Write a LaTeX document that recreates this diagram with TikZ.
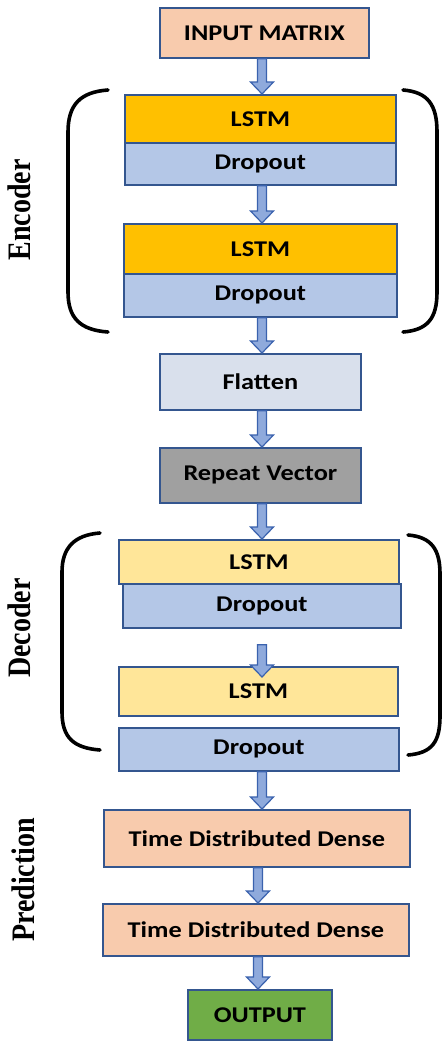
\documentclass[tikz,border=0pt]{standalone}
\usepackage{fontspec}
\setmainfont{Carlito}[FakeStretch=1.17]
\newfontfamily\labelfont{Liberation Serif}
\usetikzlibrary{calc}
\definecolor{peach}{HTML}{F8CBAD}
\definecolor{encgold}{HTML}{FFC000}
\definecolor{decgold}{HTML}{FFE699}
\definecolor{dropblue}{HTML}{B4C7E7}
\definecolor{flatgray}{HTML}{D9E0EC}
\definecolor{repgray}{HTML}{A0A0A0}
\definecolor{outgreen}{HTML}{70AD47}
\definecolor{edgeblue}{HTML}{34568F}
\definecolor{arrfill}{HTML}{8FAADC}
\definecolor{arrline}{HTML}{3A62AE}
% block arrow from #1 (tail) to #2 (tip)
\newcommand{\blockarrow}[2]{%
  \filldraw[fill=arrfill, draw=arrline, line width=1.2pt, line join=miter]
    ($(#1)+(-4.5,0)$) -- ($(#2)+(-4.5,-12)$) -- ($(#2)+(-11.5,-12)$) -- (#2)
    -- ($(#2)+(11.5,-12)$) -- ($(#2)+(4.5,-12)$) -- ($(#1)+(4.5,0)$) -- cycle;}
\begin{document}
\begin{tikzpicture}[x=1pt, y=-1pt,
  layer/.style={draw=edgeblue, line width=1.8pt, inner sep=0pt, anchor=north west,
    font=\bfseries\fontsize{22.5}{22.5}\selectfont, text=black},
  brace/.style={line width=3.6pt, line cap=round},
  side/.style={rotate=90, font=\labelfont\bfseries\fontsize{28}{28}\selectfont}]
\useasboundingbox (0,0) rectangle (445,1041);
\fill[white] (0,0) rectangle (445,1041);

% layer boxes
\newcommand{\lay}[7]{\node[layer, fill=#2, minimum width=#5-#3, minimum height=#6-#4] (#1) at (#3,#4) {#7};}
\lay{in}{peach}{159}{7}{368}{57}{INPUT MATRIX}
\lay{e1l}{encgold}{124}{94}{395}{142}{LSTM}
\lay{e1d}{dropblue}{124}{142}{395}{184}{Dropout}
\lay{e2l}{encgold}{123}{223}{396}{273}{LSTM}
\lay{e2d}{dropblue}{123}{273}{396}{316}{Dropout}
\lay{fl}{flatgray}{159}{353}{360}{409}{Flatten}
\lay{rv}{repgray}{159}{447}{360}{502}{Repeat Vector}
\lay{d1l}{decgold}{118}{539}{398}{583}{LSTM}
\lay{d1d}{dropblue}{122}{583}{400}{627}{Dropout}
\lay{d2l}{decgold}{118}{666}{397}{715}{LSTM}
\lay{d2d}{dropblue}{118}{727}{398}{770}{Dropout}
\lay{t1}{peach}{103}{809}{409}{866}{Time Distributed Dense}
\lay{t2}{peach}{102}{903}{408}{955}{Time Distributed Dense}
\lay{out}{outgreen}{187}{989}{331}{1039}{OUTPUT}

% arrow axes
\coordinate (ax) at (262,0);
\coordinate (bx) at (258,0);

% connectors
\blockarrow{in.south -| ax}{e1l.north -| ax}
\blockarrow{e1d.south -| ax}{e2l.north -| ax}
\blockarrow{e2d.south -| ax}{fl.north -| ax}
\blockarrow{fl.south -| ax}{rv.north -| ax}
\blockarrow{rv.south -| ax}{d1l.north -| ax}
\coordinate (d1tail) at ($(d1d.south -| ax)+(0,16)$);
\coordinate (d2tip) at ($(d2l.north -| ax)+(0,11)$);
\blockarrow{d1tail}{d2tip}
\blockarrow{d2d.south -| ax}{t1.north -| ax}
\blockarrow{t1.south -| bx}{t2.north -| bx}
\blockarrow{t2.south -| bx}{out.north -| bx}

% encoder brackets
\draw[brace] (108,90) .. controls (80,92) and (68,105) .. (68,132) -- (68,292)
  .. controls (68,318) and (80,330) .. (108,332);
\draw[brace] (403,90) .. controls (428,92) and (437,105) .. (437,132) -- (437,292)
  .. controls (437,318) and (428,330) .. (403,332);
% decoder brackets
\draw[brace] (100,533) .. controls (74,535) and (62,548) .. (62,572) -- (62,712)
  .. controls (62,738) and (74,748) .. (100,750);
\draw[brace] (408,535) .. controls (432,537) and (440,550) .. (440,574) -- (440,716)
  .. controls (440,742) and (432,753) .. (408,755);

% section labels
\node[side] (enc) at (19,210) {\scalebox{1}[1.17]{Encoder}};
\node[side] (dec) at (19,628) {\scalebox{1}[1.17]{Decoder}};
\node[side] (pred) at (23,880) {\scalebox{1}[1.17]{Prediction}};
\end{tikzpicture}
\end{document}
